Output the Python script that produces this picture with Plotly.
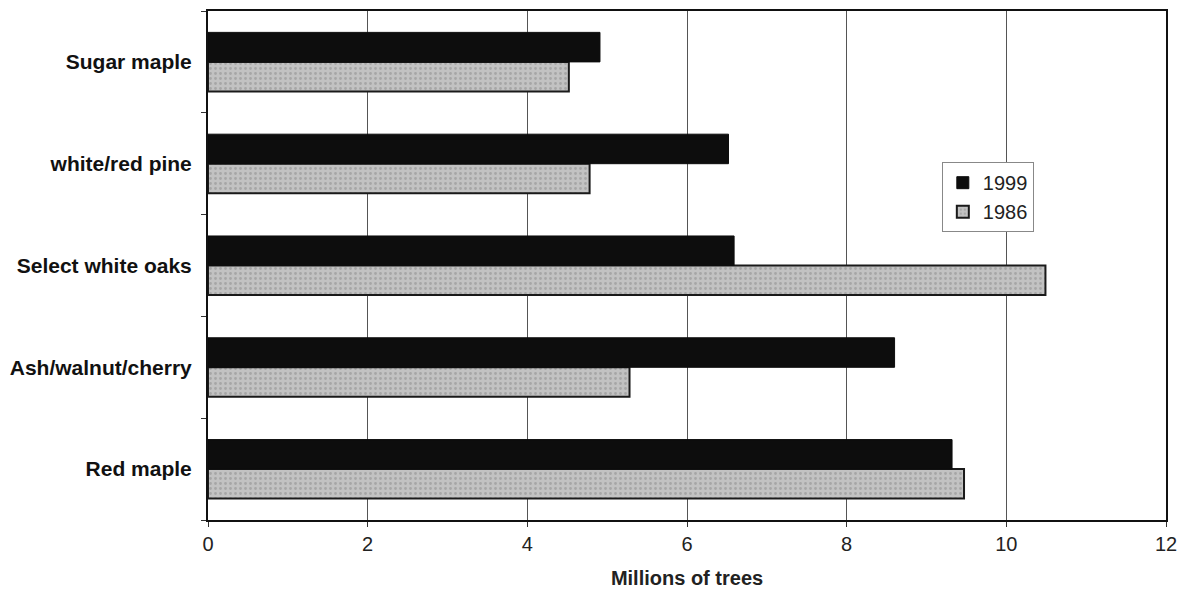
import plotly.graph_objects as go

categories = ["Red maple", "Ash/walnut/cherry", "Select white oaks", "white/red pine", "Sugar maple"]
values_1999 = [9.32, 8.6, 6.59, 6.52, 4.91]
values_1986 = [9.47, 5.28, 10.49, 4.78, 4.52]
x_ticks = [0, 2, 4, 6, 8, 10, 12]

FONT = "Liberation Sans, Arial, sans-serif"

fig = go.Figure()
fig.add_trace(go.Bar(
    y=categories, x=values_1986, name="1986", orientation="h", legendgroup="b",
    marker=dict(color="#bdbdbd", line=dict(color="#1a1a1a", width=2),
                pattern=dict(shape=".", fgcolor="#8a8a8a", bgcolor="#c2c2c2", size=5, solidity=0.25)),
))
fig.add_trace(go.Bar(
    y=categories, x=values_1999, name="1999", orientation="h", legendgroup="a",
    marker=dict(color="#0d0d0d", line=dict(color="#0d0d0d", width=1)),
))

# page body has an 8px margin; figure sized/margined so the plot area lands where the reference has it
fig.update_layout(
    width=1177, height=584,
    margin=dict(l=200, r=19, t=1, b=72),
    paper_bgcolor="white", plot_bgcolor="white",
    barmode="group", bargap=0.42, bargroupgap=0,
    font=dict(family=FONT, color="#1a1a1a"),
    showlegend=True,
    legend=dict(x=0.766, y=0.703, xanchor="left", yanchor="top",
                traceorder="reversed", bgcolor="white",
                bordercolor="#888", borderwidth=1,
                font=dict(size=20, family=FONT, color="#222"),
                itemwidth=30, tracegroupgap=2),
)
fig.update_xaxes(
    range=[0, 12], tickvals=x_ticks, ticktext=[str(t) for t in x_ticks],
    showgrid=True, gridcolor="#555", gridwidth=1,
    showline=True, linecolor="#111", linewidth=2, mirror=True,
    ticks="outside", ticklen=5, tickcolor="#333",
    tickfont=dict(size=20, family=FONT, color="#222"),
    title=dict(text="<b>Millions of trees</b>", font=dict(size=20, family=FONT, color="#222"), standoff=17),
    zeroline=False,
)
fig.update_yaxes(
    categoryorder="array", categoryarray=categories,
    showgrid=False,
    showline=True, linecolor="#111", linewidth=2, mirror=True,
    ticks="outside", ticklen=5, tickcolor="#333", tickson="boundaries",
    tickfont=dict(size=21, family=FONT, color="#111"),
    ticklabelstandoff=10,
)
fig.update_yaxes(ticktext=[f"<b>{c}</b>" for c in categories], tickvals=categories)

fig.write_html("out.html")
